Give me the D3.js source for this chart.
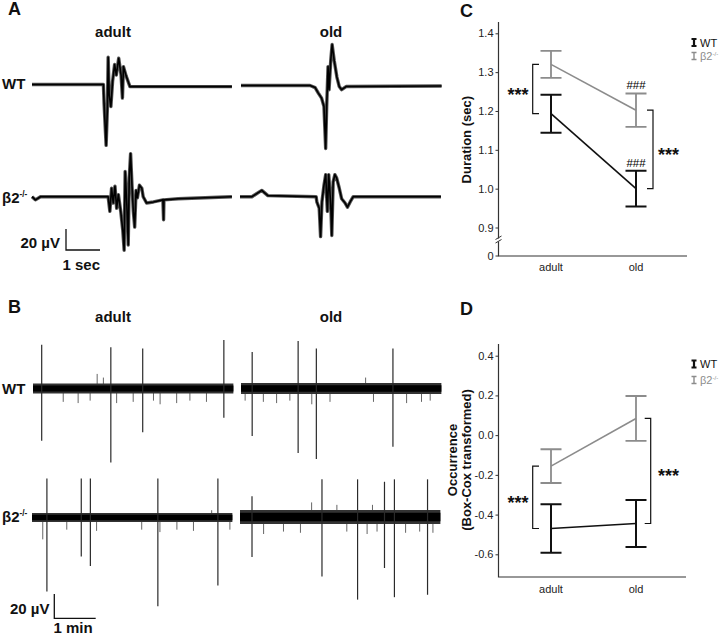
<!DOCTYPE html>
<html>
<head>
<meta charset="utf-8">
<script src="https://cdn.jsdelivr.net/npm/d3@7"></script>
<style>
body { margin: 0; background: #fff; }
svg { display: block; font-family: "Liberation Sans", Arial, sans-serif; }
</style>
</head>
<body>
<div id="fig"></div>
<script>
var W = 720, H = 636;
var BLACK = "#111", GREY = "#8c8c8c";

// ---- summary data (C, D)
var ages = ["adult", "old"];
var durWT = [1.193, 1.000], durWTsem = [0.049, 0.046];
var durKO = [1.320, 1.202], durKOsem = [0.035, 0.043];
var durTicks = [0.9, 1.0, 1.1, 1.2, 1.3, 1.4];
var occWT = [-0.470, -0.445], occWTsem = [0.122, 0.118];
var occKO = [-0.156, 0.084], occKOsem = [0.085, 0.113];
var occTicks = [-0.6, -0.4, -0.2, 0.0, 0.2, 0.4];

// ---- panel A: single events, [time (s), amplitude (µV)]
var evWTadult = [[0,0],[2.10,0],[2.12,-18],[2.18,-58],[2.22,-20],[2.24,26],[2.27,-10],[2.32,-21],[2.37,3],[2.43,19],[2.48,9],[2.55,25],[2.62,9],[2.66,-13],[2.69,17],[2.77,8],[2.88,-2],[5.88,-2]];
var evWTold = [[0,0],[2.03,0],[2.18,-2],[2.27,-7],[2.37,-12],[2.44,-20],[2.49,-60],[2.52,-20],[2.56,18],[2.59,-4],[2.64,24],[2.68,39],[2.74,24],[2.82,8],[2.89,-1],[2.96,-4],[3.09,-1],[5.90,-0.5]];
var evKOadult = [[0,0],[0.10,-3],[0.25,0],[2.24,0],[2.29,-14],[2.34,8],[2.39,-6],[2.44,10],[2.49,-11],[2.54,2],[2.61,-14],[2.67,-32],[2.71,-51],[2.74,24],[2.79,-8],[2.83,-46],[2.86,18],[2.90,41],[2.94,11],[2.98,-14],[3.02,-29],[3.06,6],[3.10,-1],[3.16,11],[3.23,8],[3.27,0],[3.37,-6],[3.57,-5],[3.85,-3],[3.87,-22],[3.88,-3],[4.30,-2],[5.88,0]];
var evKOold = [[0,0],[0.35,0],[0.64,6],[0.82,1],[2.24,0],[2.26,-5],[2.33,-11],[2.37,-38],[2.41,-5],[2.47,11],[2.52,21],[2.57,-14],[2.61,21],[2.67,-8],[2.70,-37],[2.74,14],[2.79,21],[2.84,18],[2.92,8],[2.99,-2],[3.09,-6],[3.16,-10],[3.24,-5],[3.33,0],[5.91,0]];

// ---- panel B: big spikes [time (min), peak up (µV), peak down (µV)]
var spWTadult = [[0.21,36,-43],[1.88,34,-61],[2.65,33,-36],[4.61,40,-24]];
var spWTold = [[0.27,30,-39],[1.38,39,-53],[1.82,33,-58],[3.67,33,-48]];
var spKOadult = [[0.36,32,-61],[1.19,32,-32],[1.41,32,-40],[3.04,32,-73],[4.49,32,-56]];
var spKOold = [[0.29,17,-33],[1.98,31,-49],[2.84,31,-68],[3.49,29,-42],[3.73,31,-66],[4.53,31,-64]];
// small spikes [time (min), µV]
var smWTadult = [[0.73,-11],[1.09,-12],[1.38,-10],[1.55,12],[1.70,9],[2.02,-12],[2.42,-11],[2.91,-10],[3.07,-13],[3.47,-12],[3.79,-10],[4.19,-11]];
var smWTold = [[0.10,-10],[0.54,-11],[0.86,-12],[1.18,-10],[1.71,-13],[2.15,-11],[3.01,9],[3.20,-11],[4.00,-12],[4.36,-11],[4.57,-10]];
var smKOadult = [[0.26,-18],[0.84,-10],[1.56,-11],[2.65,-10],[3.09,-12],[3.50,-10],[3.90,-11],[4.34,6],[4.78,-10]];
var smKOold = [[0.57,-14],[1.05,-12],[1.46,-13],[1.73,12],[2.34,10],[2.58,-12],[3.07,-14],[3.20,10],[3.31,-12],[4.00,-13],[4.34,-12],[4.66,-13]];
// half width of the noise band (µV)
var noiseB = [4.2, 4.5, 3.8, 5.8];
var runMin = 4.84;

var svg = d3.select("#fig").append("svg")
    .attr("width", W)
    .attr("height", H);

function txt(x, y, s, size, weight, anchor) {
    return svg.append("text")
        .attr("x", x).attr("y", y)
        .attr("font-size", size)
        .attr("font-weight", weight || "normal")
        .attr("text-anchor", anchor || "start")
        .attr("fill", BLACK)
        .text(s);
}
function koLabel(x, y, size, weight, color) {
    var t = txt(x, y, "β2", size, weight).attr("fill", color || BLACK);
    t.append("tspan").attr("font-size", size * 0.55).attr("dy", -size * 0.4).text("-/-");
    return t;
}

// panel letters and row / column labels
txt(8, 15, "A", 18, "bold");
txt(8, 313, "B", 18, "bold");
txt(460, 17, "C", 18, "bold");
txt(460, 315, "D", 18, "bold");
[36.5, 321.5].forEach(function (y) {
    txt(113, y, "adult", 15, "bold", "middle");
    txt(331, y, "old", 15, "bold", "middle");
});
txt(2, 88.5, "WT", 15, "bold");
txt(2, 393.5, "WT", 15, "bold");
koLabel(2, 202.5, 15, "bold");
koLabel(2, 522, 15, "bold");

// ---- panel A traces
var xA = d3.scaleLinear().domain([0, 1]).range([0, 34]);
var yA = d3.scaleLinear().domain([0, 20]).range([0, -21]);
var lineA = d3.line().x(function (d) { return xA(d[0]); }).y(function (d) { return yA(d[1]); });

function drawEvent(pts, x0, y0) {
    var g = svg.append("g").attr("transform", "translate(" + x0 + "," + y0 + ")");
    // noise band around the trace
    g.append("path")
        .attr("d", lineA(pts))
        .attr("fill", "none")
        .attr("stroke", "#555")
        .attr("stroke-width", 3.4)
        .attr("stroke-linejoin", "round");
    g.append("path")
        .attr("d", lineA(pts))
        .attr("fill", "none")
        .attr("stroke", "#000")
        .attr("stroke-width", 1.6)
        .attr("stroke-linejoin", "round");
}
drawEvent(evWTadult, 32, 84.5);
drawEvent(evWTold, 241, 85.5);
drawEvent(evKOadult, 32, 196.7);
drawEvent(evKOold, 240, 196.7);

// scale bar A
svg.append("path")
    .attr("d", "M" + 66 + "," + (250 + yA(20)) + "V250H" + (66 + xA(1)))
    .attr("fill", "none").attr("stroke", BLACK).attr("stroke-width", 1.3);
txt(60, 248, "20 µV", 15, "bold", "end");
txt(62.5, 270, "1 sec", 15, "bold");

// ---- panel B traces
var xB = d3.scaleLinear().domain([0, 1]).range([0, 41.4]);
var yB = d3.scaleLinear().domain([0, 20]).range([0, -24.3]);

function drawRun(spikes, small, noise, x0, y0) {
    var g = svg.append("g").attr("transform", "translate(" + x0 + "," + y0 + ")");
    g.selectAll("line.sm").data(small).join("line")
        .attr("class", "sm")
        .attr("x1", function (d) { return xB(d[0]); })
        .attr("x2", function (d) { return xB(d[0]); })
        .attr("y1", yB(0))
        .attr("y2", function (d) { return yB(d[1]); })
        .attr("stroke", "#666").attr("stroke-width", 1);
    g.append("line")
        .attr("x1", xB(0)).attr("x2", xB(runMin))
        .attr("y1", yB(0)).attr("y2", yB(0))
        .attr("stroke", "#333")
        .attr("stroke-width", yB(0) - yB(2 * noise));
    g.append("line")
        .attr("x1", xB(0)).attr("x2", xB(runMin))
        .attr("y1", yB(0)).attr("y2", yB(0))
        .attr("stroke", "#000")
        .attr("stroke-width", (yB(0) - yB(2 * noise)) * 0.6);
    g.selectAll("line.sp").data(spikes).join("line")
        .attr("class", "sp")
        .attr("x1", function (d) { return xB(d[0]); })
        .attr("x2", function (d) { return xB(d[0]); })
        .attr("y1", function (d) { return yB(d[1]); })
        .attr("y2", function (d) { return yB(d[2]); })
        .attr("stroke", "#2a2a2a").attr("stroke-width", 1.2);
}
drawRun(spWTadult, smWTadult, noiseB[0], 33, 388.5);
drawRun(spWTold, smWTold, noiseB[1], 241, 388.5);
drawRun(spKOadult, smKOadult, noiseB[2], 32, 517.5);
drawRun(spKOold, smKOold, noiseB[3], 240, 517);

// scale bar B
svg.append("path")
    .attr("d", "M54.3," + (618.3 + yB(20)) + "V618.3H" + (54.3 + xB(1)))
    .attr("fill", "none").attr("stroke", BLACK).attr("stroke-width", 1.3);
txt(49.5, 614, "20 µV", 15, "bold", "end");
txt(53.5, 632.5, "1 min", 15, "bold");

// ---- panels C and D
var x = d3.scalePoint().domain(ages).range([551, 636]);
var axX = 498.5;

function drawChart(o) {
    var y = o.y;
    var ax = svg.append("g")
        .attr("transform", "translate(" + axX + ",0)")
        .call(d3.axisLeft(y).tickValues(o.ticks).tickSize(3).tickPadding(2)
            .tickFormat(function (d) { return d.toFixed(1); }));
    ax.select(".domain").remove();
    ax.selectAll(".tick line").attr("stroke", "#333");
    ax.selectAll(".tick text").attr("font-size", 11).attr("fill", "#222")
        .attr("font-family", "'Liberation Sans', Arial, sans-serif");

    svg.append("path")
        .attr("d", "M" + axX + "," + o.top + "V" + o.bottom + "H" + o.right)
        .attr("fill", "none").attr("stroke", "#333").attr("stroke-width", 1.2);

    ages.forEach(function (a) {
        txt(x(a), o.bottom + o.labOff, a, 11, "normal", "middle").attr("fill", "#222");
    });

    var series = [
        { m: o.ko, s: o.kosem, c: GREY, w: 1.8 },
        { m: o.wt, s: o.wtsem, c: BLACK, w: 2 }
    ];
    series.forEach(function (sr) {
        svg.append("path")
            .attr("d", d3.line()(ages.map(function (a, i) { return [x(a), y(sr.m[i])]; })))
            .attr("fill", "none").attr("stroke", sr.c).attr("stroke-width", 1.6);
        ages.forEach(function (a, i) {
            var hi = y(sr.m[i] + sr.s[i]), lo = y(sr.m[i] - sr.s[i]), cx = x(a);
            svg.append("path")
                .attr("d", "M" + (cx - 10.5) + "," + hi + "H" + (cx + 10.5) +
                    "M" + cx + "," + hi + "V" + lo +
                    "M" + (cx - 10.5) + "," + lo + "H" + (cx + 10.5))
                .attr("fill", "none").attr("stroke", sr.c).attr("stroke-width", sr.w);
        });
    });

    // significance brackets
    var bx1 = x("adult") - 18.3, bx2 = x("old") + o.oldOff;
    var a1 = y(o.ko[0]), a2 = y(o.wt[0]);
    var b1 = y(o.ko[1]), b2 = y(o.wt[1]);
    svg.append("path")
        .attr("d", "M" + (bx1 + 6.3) + "," + a1 + "H" + bx1 + "V" + a2 + "H" + (bx1 + 6.3))
        .attr("fill", "none").attr("stroke", BLACK).attr("stroke-width", 1.2);
    svg.append("path")
        .attr("d", "M" + (bx2 - 6) + "," + b1 + "H" + bx2 + "V" + b2 + "H" + (bx2 - 6))
        .attr("fill", "none").attr("stroke", BLACK).attr("stroke-width", 1.2);
    txt(518, (a1 + a2) / 2 + 11.5, "***", 18, "bold", "middle");
    txt(668.5, (b1 + b2) / 2 + 11.5, "***", 18, "bold", "middle");

    if (o.hash) {
        txt(x("old"), y(o.ko[1] + o.kosem[1]) - 4.5, "###", 11.5, "normal", "middle").attr("fill", "#000");
        txt(x("old"), y(o.wt[1] + o.wtsem[1]) - 3.5, "###", 11.5, "normal", "middle").attr("fill", "#000");
    }

    // legend
    [[o.leg[0], BLACK, 2.2, "WT"], [o.leg[1], GREY, 1.4, null]].forEach(function (l) {
        var ly = l[0];
        svg.append("path")
            .attr("d", "M691.5," + (ly - 3.5) + "H696.5M694," + (ly - 3.5) + "V" + (ly + 3.5) + "M691.5," + (ly + 3.5) + "H696.5")
            .attr("fill", "none").attr("stroke", l[1]).attr("stroke-width", l[2]);
        if (l[3]) txt(700, ly + 4, l[3], 11, "normal").attr("fill", BLACK);
        else koLabel(700, ly + 4, 11, "normal", GREY);
    });
}

var yDur = d3.scaleLinear().domain([0.9, 1.4]).range([227.5, 33.3]);
drawChart({ y: yDur, ticks: durTicks, top: 22, bottom: 256, right: 687, labOff: 14.7,
    wt: durWT, wtsem: durWTsem, ko: durKO, kosem: durKOsem, oldOff: 17, hash: true, leg: [42.5, 56] });

// zero tick and axis break for C
svg.append("line").attr("x1", axX - 3).attr("x2", axX).attr("y1", 256).attr("y2", 256)
    .attr("stroke", "#333");
txt(axX - 5, 260, "0", 11, "normal", "end").attr("fill", "#222");
svg.append("rect").attr("x", axX - 2).attr("y", 238.5).attr("width", 4).attr("height", 3).attr("fill", "#fff");
svg.append("path")
    .attr("d", "M" + (axX - 3) + ",239.5L" + (axX + 3) + ",236M" + (axX - 3) + ",243L" + (axX + 3) + ",239.5")
    .attr("fill", "none").attr("stroke", "#333").attr("stroke-width", 1);

var yOcc = d3.scaleLinear().domain([-0.6, 0.4]).range([554.3, 355.7]);
drawChart({ y: yOcc, ticks: occTicks, top: 344, bottom: 577, right: 686, labOff: 15.7,
    wt: occWT, wtsem: occWTsem, ko: occKO, kosem: occKOsem, oldOff: 14.7, hash: false, leg: [364, 380] });

// axis titles
svg.append("text")
    .attr("transform", "translate(471,139.7) rotate(-90)")
    .attr("text-anchor", "middle").attr("font-size", 13).attr("font-weight", "bold")
    .attr("fill", BLACK).text("Duration (sec)");
svg.append("text")
    .attr("transform", "translate(457,460) rotate(-90)")
    .attr("text-anchor", "middle").attr("font-size", 13).attr("font-weight", "bold")
    .attr("fill", BLACK).text("Occurrence");
svg.append("text")
    .attr("transform", "translate(471,460) rotate(-90)")
    .attr("text-anchor", "middle").attr("font-size", 13).attr("font-weight", "bold")
    .attr("fill", BLACK).text("(Box-Cox transformed)");
</script>
</body>
</html>
